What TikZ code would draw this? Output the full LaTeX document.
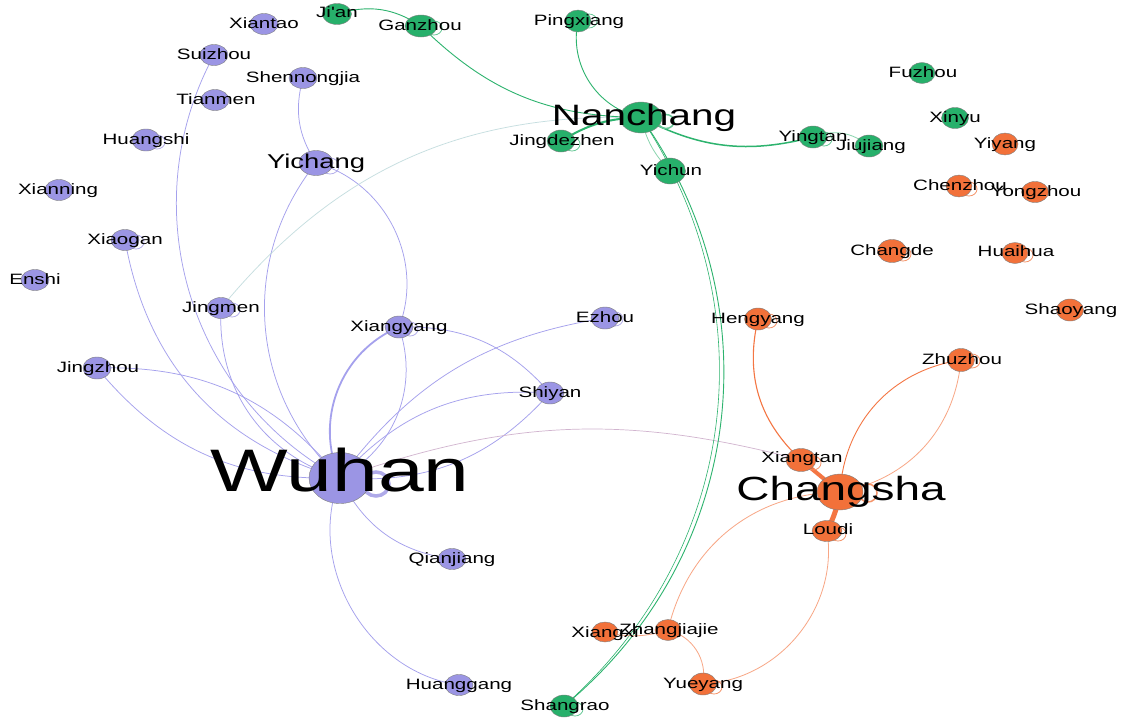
\documentclass[tikz,border=0pt]{standalone}
\usepackage{fontspec}
\newfontfamily\labfont[FakeStretch=1.37]{Liberation Sans}
\usetikzlibrary{shapes.geometric}
\pgfdeclarelayer{paper}
\pgfdeclarelayer{edges}
\pgfsetlayers{paper,edges,main}

\definecolor{hubei}{HTML}{9B95E4}
\definecolor{jiangxi}{HTML}{27B06B}
\definecolor{hunan}{HTML}{F2713A}
\definecolor{hubeiedge}{HTML}{8F89E8}
\definecolor{jiangxiedge}{HTML}{2DB36E}
\definecolor{hunanedge}{HTML}{F47643}

\tikzset{
  city/.style={ellipse, draw=black!50, line width=0.4pt, inner sep=0pt},
  pcity/.style={city, fill=hubei},
  gcity/.style={city, fill=jiangxi},
  ocity/.style={city, fill=hunan},
  lab/.style={font=\labfont\fontsize{15}{18}\selectfont, anchor=base, inner sep=0pt, text=black},
  pedge/.style={draw=hubeiedge!80, line width=0.75pt},
  pinkedge/.style={draw=hunanedge!35!hubeiedge!60, line width=0.7pt},
  tealedge/.style={draw=jiangxiedge!55!hubeiedge!45, opacity=0.75, line width=0.75pt},
  gedge/.style={draw=jiangxiedge, line width=0.9pt},
  lgedge/.style={draw=jiangxiedge!55, line width=0.8pt},
  oedge/.style={draw=hunanedge, line width=0.9pt},
  loedge/.style={draw=hunanedge!65, line width=0.8pt},
  ploop/.style={draw=hubei!75, line width=0.8pt},
  gloop/.style={draw=jiangxi!70, line width=0.8pt},
  oloop/.style={draw=hunan!75, line width=0.8pt},
}

\begin{document}
\begin{tikzpicture}[x=1pt,y=1pt]
\useasboundingbox (0,0) rectangle (1129,-720);
\begin{pgfonlayer}{paper}
\fill[white] (0,0) rectangle (1129,-720);
\end{pgfonlayer}

% Hubei cities
\node[pcity, minimum width=28pt, minimum height=21pt] (xiantao) at (264,-24) {};
\node[pcity, minimum width=28pt, minimum height=21pt] (suizhou) at (214,-55) {};
\node[pcity, minimum width=28pt, minimum height=21pt] (shennongjia) at (303,-78) {};
\node[pcity, minimum width=28pt, minimum height=21pt] (tianmen) at (215,-100) {};
\node[pcity, minimum width=28pt, minimum height=22pt] (huangshi) at (146,-140) {};
\node[pcity, minimum width=34pt, minimum height=25pt] (yichang) at (316,-163) {};
\node[pcity, minimum width=28pt, minimum height=21pt] (xianning) at (59,-190) {};
\node[pcity, minimum width=28pt, minimum height=21pt] (xiaogan) at (125,-240) {};
\node[pcity, minimum width=28pt, minimum height=21pt] (enshi) at (35,-280) {};
\node[pcity, minimum width=28pt, minimum height=21pt] (jingmen) at (221,-308) {};
\node[pcity, minimum width=28pt, minimum height=22pt] (xiangyang) at (399,-327) {};
\node[pcity, minimum width=28pt, minimum height=22pt] (ezhou) at (605,-318) {};
\node[pcity, minimum width=28pt, minimum height=22pt] (jingzhou) at (97,-368) {};
\node[pcity, minimum width=28pt, minimum height=22pt] (shiyan) at (550,-393) {};
\node[pcity, minimum width=62pt, minimum height=51pt] (wuhan) at (340,-478) {};
\node[pcity, minimum width=28pt, minimum height=21pt] (qianjiang) at (452,-559) {};
\node[pcity, minimum width=28pt, minimum height=21pt] (huanggang) at (459,-685) {};

% Jiangxi cities
\node[gcity, minimum width=29pt, minimum height=21pt] (jian) at (337,-14) {};
\node[gcity, minimum width=32pt, minimum height=22pt] (ganzhou) at (421,-26) {};
\node[gcity, minimum width=26pt, minimum height=22pt] (pingxiang) at (578,-21) {};
\node[gcity, minimum width=42pt, minimum height=31pt] (nanchang) at (641,-117.5) {};
\node[gcity, minimum width=28pt, minimum height=22pt] (jingdezhen) at (561,-141) {};
\node[gcity, minimum width=31pt, minimum height=26pt] (yichun) at (670,-171) {};
\node[gcity, minimum width=28pt, minimum height=22pt] (yingtan) at (813,-137) {};
\node[gcity, minimum width=28pt, minimum height=22pt] (jiujiang) at (869,-146) {};
\node[gcity, minimum width=26pt, minimum height=21pt] (fuzhou) at (922,-73) {};
\node[gcity, minimum width=27pt, minimum height=21pt] (xinyu) at (955,-118) {};
\node[gcity, minimum width=28pt, minimum height=22pt] (shangrao) at (564,-706) {};

% Hunan cities
\node[ocity, minimum width=26pt, minimum height=22pt] (yiyang) at (1005,-144) {};
\node[ocity, minimum width=26pt, minimum height=22pt] (chenzhou) at (959,-186) {};
\node[ocity, minimum width=27pt, minimum height=21pt] (yongzhou) at (1035,-192) {};
\node[ocity, minimum width=29pt, minimum height=23pt] (changde) at (892,-251) {};
\node[ocity, minimum width=26pt, minimum height=21pt] (huaihua) at (1015,-253) {};
\node[ocity, minimum width=27pt, minimum height=22pt] (shaoyang) at (1070,-310) {};
\node[ocity, minimum width=27pt, minimum height=22pt] (hengyang) at (758,-319) {};
\node[ocity, minimum width=27pt, minimum height=23pt] (zhuzhou) at (961,-360) {};
\node[ocity, minimum width=30pt, minimum height=23pt] (xiangtan) at (801,-460) {};
\node[ocity, minimum width=46pt, minimum height=36pt] (changsha) at (840,-492) {};
\node[ocity, minimum width=30pt, minimum height=21pt] (loudi) at (827,-531) {};
\node[ocity, minimum width=26pt, minimum height=20pt] (xiangxi) at (605,-632) {};
\node[ocity, minimum width=26pt, minimum height=21pt] (zhangjiajie) at (668,-630) {};
\node[ocity, minimum width=27pt, minimum height=22pt] (yueyang) at (703,-684) {};

\begin{pgfonlayer}{edges}
% Hubei links
\draw[pedge] (suizhou.center) to[bend right=45] (wuhan.center);
\draw[pedge] (xiaogan.center) to[bend right=32] (wuhan.center);
\draw[pedge] (jingmen.center) to[bend right=38] (wuhan.center);
\draw[pedge] (yichang.center) to[bend right=43] (wuhan.center);
\draw[pedge] (yichang.center) to[bend left=48] (xiangyang.center);
\draw[pedge] (shennongjia.center) to[bend right=24] (yichang.center);
\draw[pedge, line width=1.8pt] (xiangyang.center) to[bend right=46] (wuhan.center);
\draw[pedge] (xiangyang.center) to[bend left=40] (wuhan.center);
\draw[pedge] (wuhan.center) to[bend left=22] (ezhou.center);
\draw[pedge] (wuhan.center) to[bend left=26] (shiyan.center);
\draw[pedge] (shiyan.center) to[bend left=26] (wuhan.center);
\draw[pedge] (xiangyang.center) to[bend left=25] (shiyan.center);
\draw[pedge] (jingzhou.center) to[bend left=26] (wuhan.center);
\draw[pedge] (jingzhou.center) to[bend right=26] (wuhan.center);
\draw[pedge] (wuhan.center) to[bend right=28] (qianjiang.center);
\draw[pedge] (wuhan.center) to[bend right=52] (huanggang.center);
% links across provinces
\draw[pinkedge] (wuhan.center) to[bend left=17] (xiangtan.center);
\draw[tealedge] (jingmen.center) to[bend left=26] (nanchang.center);
% Jiangxi links
\draw[gedge] (jian.center) to[bend left=25] (ganzhou.center);
\draw[gedge] (ganzhou.center) to[bend right=22] (nanchang.center);
\draw[gedge] (pingxiang.center) to[bend right=45] (nanchang.center);
\draw[gedge, line width=2pt] (nanchang.center) to[bend right=15] (jingdezhen.center);
\draw[lgedge] (nanchang.center) to[bend right=15] (yichun.center);
\draw[gedge] (nanchang.center) to[bend left=43] (shangrao.center);
\draw[gedge, line width=0.6pt] (nanchang.center) to[bend left=41] (shangrao.center);
\draw[gedge, line width=1.5pt] (nanchang.center) to[bend right=21] (yingtan.center);
\draw[lgedge] (yingtan.center) to[bend left=30] (jiujiang.center);
% Hunan links
\draw[oedge, line width=1.1pt] (hengyang.center) to[bend right=30] (xiangtan.center);
\draw[oedge] (zhuzhou.center) to[bend right=39] (changsha.center);
\draw[loedge] (zhuzhou.center) to[bend left=37] (changsha.center);
\draw[oedge, line width=4pt] (xiangtan.center) -- (changsha.center);
\draw[oedge, line width=5pt] (changsha.center) to[bend left=8] (loudi.center);
\draw[loedge] (changsha.center) to[bend right=38] (zhangjiajie.center);
\draw[loedge] (loudi.center) to[bend left=48] (yueyang.center);
\draw[loedge] (zhangjiajie.center) to[bend left=43] (yueyang.center);
\draw[loedge] (xiangxi.center) to[bend right=15] (zhangjiajie.center);
% self loops
\draw[ploop] (huangshi.center) ++(11,-2) circle[x radius=8, y radius=7];
\draw[ploop] (xiaogan.center) ++(11,-2) circle[x radius=8, y radius=7];
\draw[ploop] (yichang.center) ++(14,-3) circle[x radius=9, y radius=8];
\draw[ploop] (jingmen.center) ++(11,-2) circle[x radius=8, y radius=7];
\draw[ploop] (xiangyang.center) ++(11,-2) circle[x radius=8, y radius=7];
\draw[ploop] (ezhou.center) ++(10,-1) circle[x radius=8, y radius=7];
\draw[ploop, line width=3.5pt, draw=hubei!80] (wuhan.center) ++(36,-6) circle[x radius=13, y radius=12];
\draw[gloop] (ganzhou.center) ++(13,-2) circle[x radius=8, y radius=7];
\draw[gloop] (pingxiang.center) ++(11,0) circle[x radius=8, y radius=7];
\draw[gloop, line width=1.5pt] (nanchang.center) ++(25,-4) circle[x radius=8, y radius=7];
\draw[gloop] (jingdezhen.center) ++(11,-3) circle[x radius=8, y radius=7];
\draw[gloop] (yingtan.center) ++(11,-2) circle[x radius=8, y radius=7];
\draw[gloop] (shangrao.center) ++(11,-3) circle[x radius=8, y radius=7];
\draw[oloop] (chenzhou.center) ++(10,-3) circle[x radius=8, y radius=7];
\draw[oloop] (changde.center) ++(11,-3) circle[x radius=8, y radius=7];
\draw[oloop] (huaihua.center) ++(10,-2) circle[x radius=8, y radius=7];
\draw[oloop] (hengyang.center) ++(11,-2) circle[x radius=8, y radius=7];
\draw[oloop] (zhuzhou.center) ++(11,-1) circle[x radius=8, y radius=7];
\draw[oloop] (xiangtan.center) ++(12,-3) circle[x radius=8, y radius=7];
\draw[oloop, line width=1.5pt] (changsha.center) ++(28,-1) circle[x radius=9, y radius=9];
\draw[oloop] (loudi.center) ++(11,-3) circle[x radius=8, y radius=7];
\draw[oloop] (yueyang.center) ++(11,-3) circle[x radius=8, y radius=7];
\end{pgfonlayer}

% city names
\node[lab] (t-xiantao) at (264,-28.5) {Xiantao};
\node[lab] (t-suizhou) at (214,-59.5) {Suizhou};
\node[lab] (t-shennongjia) at (303,-82.5) {Shennongjia};
\node[lab] (t-tianmen) at (216,-104.5) {Tianmen};
\node[lab] (t-huangshi) at (146,-144.5) {Huangshi};
\node[lab, font=\labfont\fontsize{20}{24}\selectfont] (t-yichang) at (316,-168) {Yichang};
\node[lab] (t-xianning) at (58,-194.5) {Xianning};
\node[lab] (t-xiaogan) at (125,-244.5) {Xiaogan};
\node[lab] (t-enshi) at (35,-284.5) {Enshi};
\node[lab] (t-jingmen) at (221,-312.5) {Jingmen};
\node[lab] (t-xiangyang) at (399,-331.5) {Xiangyang};
\node[lab] (t-ezhou) at (605,-322.5) {Ezhou};
\node[lab] (t-jingzhou) at (98,-372.5) {Jingzhou};
\node[lab] (t-shiyan) at (550,-397.5) {Shiyan};
\node[lab, font=\labfont\fontsize{60}{70}\selectfont] (t-wuhan) at (340,-491) {Wuhan};
\node[lab] (t-qianjiang) at (452,-563.5) {Qianjiang};
\node[lab] (t-huanggang) at (459,-689.5) {Huanggang};

\node[lab] (t-jian) at (337,-17.5) {Ji'an};
\node[lab] (t-ganzhou) at (420,-30.5) {Ganzhou};
\node[lab] (t-pingxiang) at (579,-25) {Pingxiang};
\node[lab, font=\labfont\fontsize{29.5}{34}\selectfont] (t-nanchang) at (644,-125) {Nanchang};
\node[lab] (t-jingdezhen) at (562,-145.5) {Jingdezhen};
\node[lab] (t-yichun) at (671,-175.5) {Yichun};
\node[lab] (t-yingtan) at (813,-141.5) {Yingtan};
\node[lab] (t-jiujiang) at (871,-150.5) {Jiujiang};
\node[lab] (t-fuzhou) at (923,-77.5) {Fuzhou};
\node[lab] (t-xinyu) at (955,-122) {Xinyu};
\node[lab] (t-shangrao) at (565,-710) {Shangrao};

\node[lab] (t-yiyang) at (1005,-148.5) {Yiyang};
\node[lab] (t-chenzhou) at (960,-190.5) {Chenzhou};
\node[lab] (t-yongzhou) at (1036,-196) {Yongzhou};
\node[lab] (t-changde) at (892,-255) {Changde};
\node[lab] (t-huaihua) at (1016,-256.5) {Huaihua};
\node[lab] (t-shaoyang) at (1071,-314) {Shaoyang};
\node[lab] (t-hengyang) at (758,-323) {Hengyang};
\node[lab] (t-zhuzhou) at (962,-364) {Zhuzhou};
\node[lab] (t-xiangtan) at (802,-462.5) {Xiangtan};
\node[lab, font=\labfont\fontsize{33.5}{38}\selectfont] (t-changsha) at (841,-500) {Changsha};
\node[lab] (t-loudi) at (828,-534.5) {Loudi};
\node[lab] (t-xiangxi) at (605,-637) {Xiangxi};
\node[lab] (t-zhangjiajie) at (669,-634) {Zhangjiajie};
\node[lab] (t-yueyang) at (703,-688.5) {Yueyang};
\end{tikzpicture}
\end{document}
